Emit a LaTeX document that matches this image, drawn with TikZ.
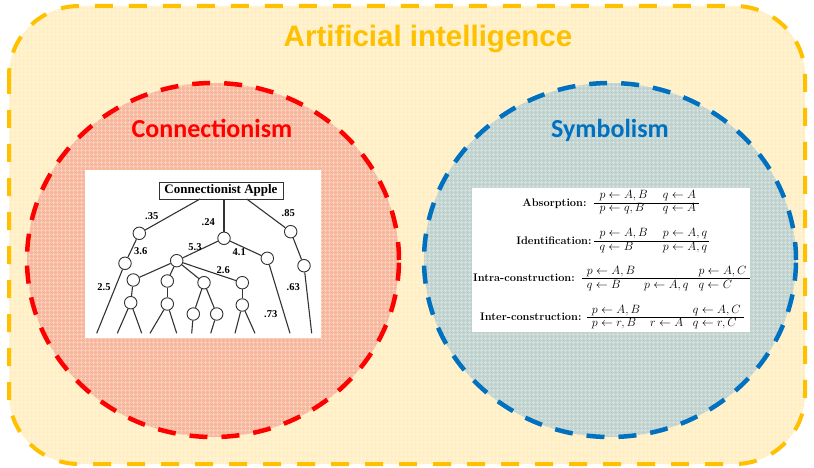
\documentclass[tikz,border=0pt]{standalone}
\usepackage{fontspec}
\usetikzlibrary{patterns}
\newfontfamily\titlefont{Liberation Sans}
\newfontfamily\headfont{Carlito}
\newfontfamily\treefont{Liberation Serif}

\definecolor{aiOrange}{HTML}{FFC000}
\definecolor{aiFill}{HTML}{FFEFC2}
\definecolor{conRed}{HTML}{FF0000}
\definecolor{conFill}{HTML}{F8B79C}
\definecolor{symBlue}{HTML}{0070C0}
\definecolor{symFill}{HTML}{C0D2CD}
\definecolor{treeInk}{HTML}{333333}

% fine woven texture laid over the filled regions
\pgfdeclarepatternformonly{finegrid}{\pgfqpoint{0pt}{0pt}}{\pgfqpoint{4pt}{4pt}}{\pgfqpoint{4pt}{4pt}}{
  \pgfsetlinewidth{0.9pt}
  \pgfpathmoveto{\pgfqpoint{0pt}{2pt}}\pgfpathlineto{\pgfqpoint{4pt}{2pt}}
  \pgfpathmoveto{\pgfqpoint{2pt}{0pt}}\pgfpathlineto{\pgfqpoint{2pt}{4pt}}
  \pgfusepath{stroke}}

\begin{document}
\begin{tikzpicture}[x=1pt,y=-1pt,
  region/.style={line width=4.5pt, dash pattern=on 18pt off 14pt},
  texture/.style={pattern=finegrid, pattern color=white, fill opacity=0.35},
  heading/.style={anchor=base, inner sep=0pt, font=\headfont\bfseries\fontsize{26}{30}\selectfont},
  treenode/.style={circle, draw=treeInk, fill=white, line width=0.9pt, minimum size=12.5pt, inner sep=0pt},
  link/.style={draw=treeInk, line width=1.1pt},
  weight/.style={inner sep=0pt, font=\treefont\bfseries\fontsize{10.5}{12}\selectfont},
  rulename/.style={anchor=base east, inner sep=0pt, font=\bfseries\fontsize{11}{13}\selectfont},
  clause/.style={anchor=base west, inner sep=0pt, font=\fontsize{12}{14}\selectfont},
  bar/.style={draw=black, line width=0.7pt}]
\useasboundingbox (0,0) rectangle (814,468);

% outer region
\fill[aiFill, rounded corners=70pt] (9,6) rectangle (805,464);
\fill[texture, rounded corners=70pt] (9,6) rectangle (805,464);
\draw[draw=aiOrange, line width=4pt, dash pattern=on 18pt off 16pt,
      rounded corners=70pt] (9,6) rectangle (805,464);
\node[anchor=base, inner sep=0pt, text=aiOrange,
      font=\titlefont\bfseries\fontsize{29.5}{34}\selectfont] (ai) at (428,46.7) {Artificial intelligence};

% two schools
\fill[conFill] (213,260) ellipse [x radius=186pt, y radius=177pt];
\fill[texture] (213,260) ellipse [x radius=186pt, y radius=177pt];
\draw[region, draw=conRed] (213,260) ellipse [x radius=186pt, y radius=177pt];
\fill[symFill] (610,260) ellipse [x radius=186pt, y radius=177pt];
\fill[texture] (610,260) ellipse [x radius=186pt, y radius=177pt];
\draw[region, draw=symBlue] (610,260) ellipse [x radius=186pt, y radius=177pt];
\node[heading, text=conRed] (con) at (212,137.3) {Connectionism};
\node[heading, text=symBlue] (sym) at (610,137.3) {Symbolism};

% ---------- connectionist network ----------
\fill[white] (85,170) rectangle (321,338);
\node[draw=treeInk, line width=0.8pt, inner sep=0pt, minimum width=124pt, minimum height=17pt,
      font=\treefont\bfseries\fontsize{13}{15}\selectfont] (apple) at (221,190.5) {Connectionist Apple};
\coordinate (a1) at (200,199);
\coordinate (a2) at (224,199);
\coordinate (a3) at (246.7,199);

\node[treenode] (n1) at (139.3,233.3) {};
\node[treenode] (n2) at (224,238.3) {};
\node[treenode] (n3) at (290.7,231.7) {};
\node[treenode] (m1) at (125,263.3) {};
\node[treenode] (m2) at (176.7,260.7) {};
\node[treenode] (m3) at (267.3,258.3) {};
\node[treenode] (m4) at (304,265.7) {};
\node[treenode] (k1) at (133.3,280) {};
\node[treenode] (k2) at (167.3,281) {};
\node[treenode] (k3) at (204,282.7) {};
\node[treenode] (k4) at (242.3,282.7) {};
\node[treenode] (j1) at (130.7,302.7) {};
\node[treenode] (j2) at (167.3,304) {};
\node[treenode] (h1) at (193.3,314) {};
\node[treenode] (h2) at (216.7,314) {};
\node[treenode] (j4) at (242.3,305) {};

\coordinate (e1) at (96.7,333.3);
\coordinate (e2) at (117.3,333.3);
\coordinate (e3) at (141.7,333.3);
\coordinate (e4) at (150,333.3);
\coordinate (e5) at (176.7,333.3);
\coordinate (e6) at (191.7,333.3);
\coordinate (e7) at (210.7,333.3);
\coordinate (e8) at (235,333.3);
\coordinate (e9) at (255,333.3);
\coordinate (e10) at (290,333.3);
\coordinate (e11) at (311.7,333.3);

\draw[link] (a1) -- (n1);
\draw[link] (a2) -- (n2);
\draw[link] (a3) -- (n3);
\draw[link] (n1) -- (m1);
\draw[link] (m1) -- (e1);
\draw[link] (n2) -- (m2);
\draw[link] (n2) -- (m3);
\draw[link] (m3) -- (e10);
\draw[link] (n3) -- (m4);
\draw[link] (m4) -- (e11);
\draw[link] (m2) -- (k1);
\draw[link] (m2) -- (k2);
\draw[link] (m2) -- (k3);
\draw[link] (m2) -- (k4);
\draw[link] (k1) -- (j1);
\draw[link] (k2) -- (j2);
\draw[link] (k3) -- (h1);
\draw[link] (k3) -- (h2);
\draw[link] (k4) -- (j4);
\draw[link] (j1) -- (e2);
\draw[link] (j1) -- (e3);
\draw[link] (j2) -- (e4);
\draw[link] (j2) -- (e5);
\draw[link] (h1) -- (e6);
\draw[link] (h2) -- (e7);
\draw[link] (j4) -- (e8);
\draw[link] (j4) -- (e9);

\node[weight] (w1) at (151.7,216) {.35};
\node[weight] (w2) at (208.3,221.7) {.24};
\node[weight] (w3) at (288.3,213.3) {.85};
\node[weight] (w4) at (140.7,250.7) {3.6};
\node[weight] (w5) at (195,246.7) {5.3};
\node[weight] (w6) at (239.3,251.7) {4.1};
\node[weight] (w7) at (223.3,270) {2.6};
\node[weight] (w8) at (104,287.3) {2.5};
\node[weight] (w9) at (293.3,287.3) {.63};
\node[weight] (w10) at (270.7,314) {.73};

% ---------- inverse resolution operators ----------
\fill[white] (472,188) rectangle (750,332);

% absorption
\node[rulename] (r1) at (586.7,206) {Absorption:};
\draw[bar] (594,203.3) -- (699.3,203.3);
\node[clause] (r1a) at (599.3,198.3) {$p\leftarrow A,B$};
\node[clause] (r1b) at (662.7,198.3) {$q\leftarrow A$};
\node[clause] (r1c) at (599.3,211.7) {$p\leftarrow q,B$};
\node[clause] (r1d) at (662.7,211.7) {$q\leftarrow A$};

% identification
\node[rulename] (r2) at (591.7,244) {Identification:};
\draw[bar] (594,241.7) -- (709.3,241.7);
\node[clause] (r2a) at (599.3,236.7) {$p\leftarrow A,B$};
\node[clause] (r2b) at (662.7,236.7) {$p\leftarrow A,q$};
\node[clause] (r2c) at (599.3,250) {$q\leftarrow B$};
\node[clause] (r2d) at (662.7,250) {$p\leftarrow A,q$};

% intra-construction
\node[rulename] (r3) at (575,281.7) {Intra-construction:};
\draw[bar] (581.7,278.3) -- (750,278.3);
\node[clause] (r3a) at (586.7,274.3) {$p\leftarrow A,B$};
\node[clause] (r3b) at (698.3,274.3) {$p\leftarrow A,C$};
\node[clause] (r3c) at (586.7,288.3) {$q\leftarrow B$};
\node[clause] (r3d) at (644,288.3) {$p\leftarrow A,q$};
\node[clause] (r3e) at (698.3,288.3) {$q\leftarrow C$};

% inter-construction
\node[rulename] (r4) at (581.7,320) {Inter-construction:};
\draw[bar] (586.7,317.7) -- (744,317.7);
\node[clause] (r4a) at (591.7,313.3) {$p\leftarrow A,B$};
\node[clause] (r4b) at (692.7,313.3) {$q\leftarrow A,C$};
\node[clause] (r4c) at (591.7,326.7) {$p\leftarrow r,B$};
\node[clause] (r4d) at (650,326.7) {$r\leftarrow A$};
\node[clause] (r4e) at (692.7,326.7) {$q\leftarrow r,C$};
\end{tikzpicture}
\end{document}
